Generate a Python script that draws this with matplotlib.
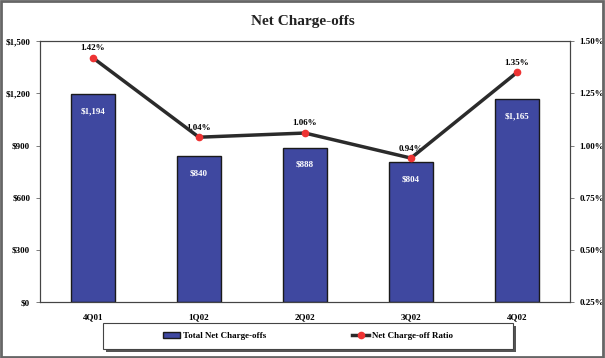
import matplotlib
matplotlib.use('agg')
import matplotlib.pyplot as plt
from matplotlib.patches import Rectangle
import numpy as np

quarters = ['4Q01', '1Q02', '2Q02', '3Q02', '4Q02']
charge_offs = [1194, 840, 888, 804, 1165]
ratio = [1.42, 1.04, 1.06, 0.94, 1.35]
left_ticks = [0, 300, 600, 900, 1200, 1500]
right_ticks = [0.25, 0.50, 0.75, 1.00, 1.25, 1.50]

plt.rcParams['font.family'] = ['Liberation Serif', 'DejaVu Serif']
plt.rcParams['font.weight'] = 'bold'

fig = plt.figure(figsize=(6.05, 3.58), dpi=100)
# outer gray border
fig.patches.append(Rectangle((0.002, 0.003), 0.995, 0.994, transform=fig.transFigure,
                             fill=False, edgecolor='#666666', linewidth=2))

ax = fig.add_axes([0.066, 0.156, 0.876, 0.729])
x = np.arange(len(quarters))
bars = ax.bar(x, charge_offs, width=0.42, color='#3F48A0', edgecolor='#1a1a1a',
              linewidth=1, label='Total Net Charge-offs', zorder=2)
ax.set_xlim(-0.5, len(quarters) - 0.5)
ax.set_ylim(0, 1500)
ax.set_yticks(left_ticks)
ax.set_yticklabels(['${:,}'.format(v) for v in left_ticks], fontsize=6.5, fontweight='bold')
ax.set_xticks(x)
ax.set_xticklabels(quarters, fontsize=6.5, fontweight='bold')
ax.tick_params(axis='x', length=0, pad=8)
ax.tick_params(axis='y', length=3, width=0.6, color='#666666', pad=4)
for s in ax.spines.values():
    s.set_color('#444444')
    s.set_linewidth(0.8)

for xi, v in zip(x, charge_offs):
    ax.text(xi, v - 75, '${:,}'.format(v), ha='center', va='top', color='white',
            fontsize=6.5, fontweight='bold', zorder=3)

ax2 = ax.twinx()
line, = ax2.plot(x, ratio, color='#2b2b2b', linewidth=2.5, marker='o', markersize=4.5,
                 markerfacecolor='#ee3333', markeredgecolor='#ee3333',
                 label='Net Charge-off Ratio', zorder=4)
ax2.set_ylim(0.25, 1.50)
ax2.set_yticks(right_ticks)
ax2.set_yticklabels(['{:.2f}%'.format(v) for v in right_ticks], fontsize=6.5, fontweight='bold')
ax2.tick_params(axis='y', length=3, width=0.6, color='#666666', pad=4)
for s in ax2.spines.values():
    s.set_color('#444444')
    s.set_linewidth(0.8)

for xi, v in zip(x, ratio):
    ax2.annotate('{:.2f}%'.format(v), (xi, v), xytext=(0, 4), textcoords='offset points',
                 ha='center', va='bottom', fontsize=6.5, fontweight='bold')

fig.text(0.5, 0.94, 'Net Charge-offs', ha='center', va='center', fontsize=11, fontweight='bold',
         color='#222222')

# legend box with shadow, drawn separately so the items can sit in the middle
lx, ly, lw, lh = 0.17, 0.025, 0.678, 0.073
fig.patches.append(Rectangle((lx + 0.005, ly - 0.008), lw, lh, transform=fig.transFigure,
                             facecolor='#555555', edgecolor='none', zorder=1))
fig.patches.append(Rectangle((lx, ly), lw, lh, transform=fig.transFigure,
                             facecolor='white', edgecolor='#444444', linewidth=0.8, zorder=2))
leg = fig.legend([bars, line], ['Total Net Charge-offs', 'Net Charge-off Ratio'],
                 loc='center', bbox_to_anchor=(lx + lw / 2, ly + lh / 2), ncol=2,
                 fontsize=6.5, frameon=False, handlelength=1.9, handletextpad=0.3,
                 columnspacing=9.5, borderaxespad=0)
leg.set_zorder(3)

fig.savefig('out.png', dpi=100)
